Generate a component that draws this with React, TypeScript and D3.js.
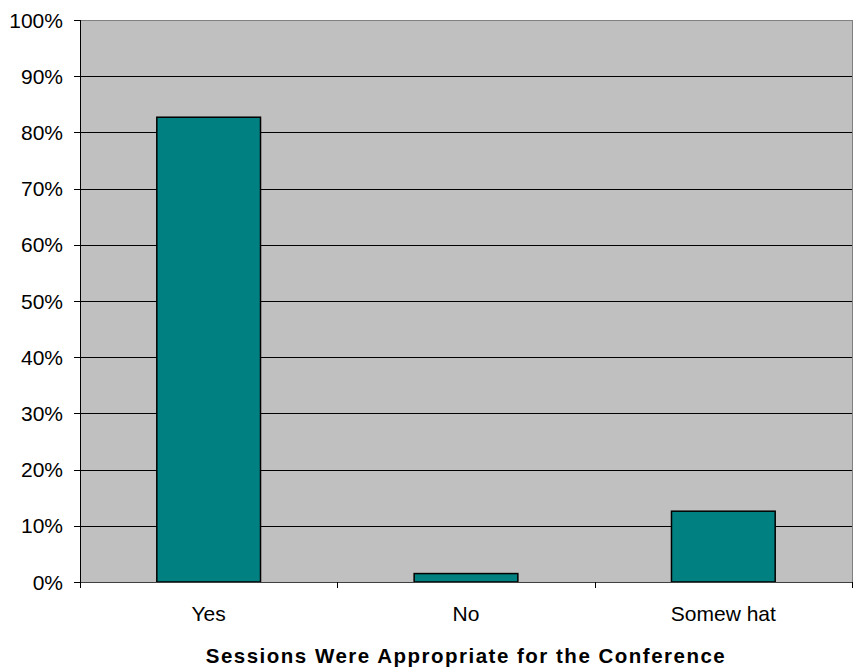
import React from "react";
import * as d3 from "d3";

const categories = ["Yes", "No", "Somew hat"];
const values = [82.7, 1.5, 12.6];
const yTicks = [0, 10, 20, 30, 40, 50, 60, 70, 80, 90, 100];
const xTitle = "Sessions Were Appropriate for the Conference";

export default function App() {
  const W = 856, H = 671;
  const left = 80, right = 852, top = 20, bottom = 582;
  const x = d3.scaleBand().domain(categories).range([left, right]).paddingInner(0).paddingOuter(0);
  const y = d3.scaleLinear().domain([0, 100]).range([bottom, top]);
  const bw = x.bandwidth() * 0.403;
  const font = "Liberation Sans, Arial, sans-serif";
  return (
    <svg width={W} height={H} style={{ position: "absolute", left: 0, top: 0 }}>
      <rect x={0} y={0} width={W} height={H} fill="#fff" />
      <rect x={left} y={top} width={right - left} height={bottom - top} fill="#c0c0c0" />
      {yTicks.slice(1).map((t) => (
        <line key={t} x1={left} x2={right} y1={Math.round(y(t)) + 0.5} y2={Math.round(y(t)) + 0.5} stroke={t === 100 ? "#808080" : "#000"} strokeWidth={1} />
      ))}
      <line x1={right + 0.5} x2={right + 0.5} y1={top} y2={bottom} stroke="#808080" />
      {categories.map((c, i) => {
        const cx = x(c)! + x.bandwidth() / 2;
        return (
          <rect key={c} x={cx - bw / 2} y={y(values[i])} width={bw} height={bottom - y(values[i])} fill="#008080" stroke="#000" strokeWidth={1.5} />
        );
      })}
      <line x1={left + 0.5} x2={left + 0.5} y1={top} y2={bottom} stroke="#000" />
      <line x1={left} x2={right} y1={bottom + 0.5} y2={bottom + 0.5} stroke="#404040" />
      {yTicks.map((t) => (
        <g key={t}>
          <line x1={left - 6} x2={left} y1={Math.round(y(t)) + 0.5} y2={Math.round(y(t)) + 0.5} stroke="#000" />
          <text x={63} y={y(t)} dy="0.36em" textAnchor="end" fontFamily={font} fontSize={21} fill="#000">{t}%</text>
        </g>
      ))}
      {[0, 1, 2, 3].map((i) => {
        const xx = Math.round(left + i * x.bandwidth()) + 0.5;
        return <line key={i} x1={xx} x2={xx} y1={bottom} y2={bottom + 6} stroke="#000" />;
      })}
      {categories.map((c) => (
        <text key={c} x={x(c)! + x.bandwidth() / 2} y={621} textAnchor="middle" fontFamily={font} fontSize={21} fill="#000">{c}</text>
      ))}
      <text x={(left + right) / 2} y={663} textAnchor="middle" fontFamily={font} fontSize={20.5} fontWeight="bold" letterSpacing={1.5} fill="#000">{xTitle}</text>
    </svg>
  );
}
